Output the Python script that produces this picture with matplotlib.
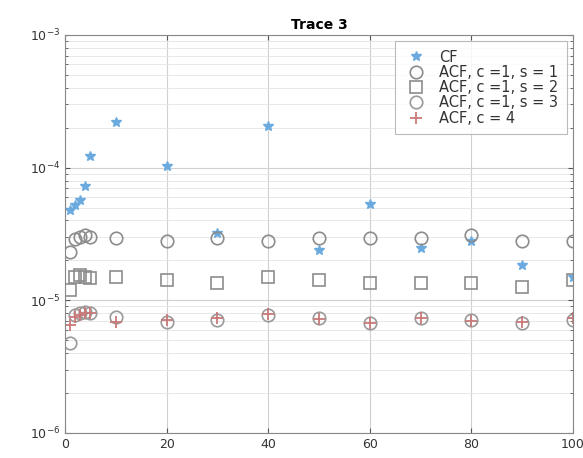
import numpy as np
import matplotlib
matplotlib.use('Agg')
import matplotlib.pyplot as plt

# x positions (same for every series)
x = [1, 2, 3, 4, 5, 10, 20, 30, 40, 50, 60, 70, 80, 90, 100]

cf = [4.8e-5, 5.2e-5, 5.7e-5, 7.3e-5, 1.22e-4, 2.21e-4, 1.03e-4, 3.2e-5,
      2.06e-4, 2.4e-5, 5.3e-5, 2.5e-5, 2.8e-5, 1.85e-5, 1.5e-5]
acf_s1 = [2.32e-5, 2.9e-5, 3.0e-5, 3.1e-5, 3.0e-5, 2.95e-5, 2.81e-5, 2.95e-5,
          2.81e-5, 2.95e-5, 2.95e-5, 2.95e-5, 3.11e-5, 2.81e-5, 2.81e-5]
acf_s2 = [1.2e-5, 1.5e-5, 1.55e-5, 1.5e-5, 1.48e-5, 1.5e-5, 1.43e-5, 1.35e-5,
          1.5e-5, 1.43e-5, 1.35e-5, 1.35e-5, 1.35e-5, 1.26e-5, 1.43e-5]
acf_s3 = [4.8e-6, 7.8e-6, 8.0e-6, 8.2e-6, 8.0e-6, 7.5e-6, 6.9e-6, 7.1e-6,
          7.8e-6, 7.4e-6, 6.8e-6, 7.4e-6, 7.1e-6, 6.8e-6, 7.1e-6]
acf_c4 = [6.5e-6, 7.5e-6, 7.8e-6, 8.0e-6, 8.0e-6, 6.9e-6, 7.1e-6, 7.3e-6,
          7.9e-6, 7.2e-6, 6.8e-6, 7.4e-6, 7.0e-6, 6.9e-6, 7.3e-6]

labels = ['CF', 'ACF, c =1, s = 1', 'ACF, c =1, s = 2', 'ACF, c =1, s = 3', 'ACF, c = 4']

fig = plt.figure(figsize=(5.83, 4.58), dpi=100)
ax = fig.add_axes([0.1115, 0.0546, 0.8714, 0.869])

ax.plot(x, cf, ls='none', marker='*', ms=7, mfc='#6aaade', mec='#6aaade', label=labels[0])
ax.plot(x, acf_s1, ls='none', marker='o', ms=9, mfc='none', mec='#8c8c8c', mew=1.2, label=labels[1])
ax.plot(x, acf_s2, ls='none', marker='s', ms=8, mfc='none', mec='#8c8c8c', mew=1.2, label=labels[2])
ax.plot(x, acf_s3, ls='none', marker='o', ms=9, mfc='none', mec='#9a9a9a', mew=1.2, label=labels[3])
ax.plot(x, acf_c4, ls='none', marker='+', ms=9, mec='#c87878', mew=1.3, label=labels[4])

ax.set_yscale('log')
ax.set_xlim(0, 100)
ax.set_ylim(1e-6, 1e-3)
ax.set_xticks([0, 20, 40, 60, 80, 100])
ax.set_title('Trace 3', fontsize=10, fontweight='bold', pad=4)

ax.grid(True, which='major', color='#d0d0d0', lw=0.8)
ax.grid(True, which='minor', axis='y', color='#e4e4e4', lw=0.6)
ax.tick_params(which='both', direction='in', top=True, right=True, colors='#555555', labelsize=9)
ax.tick_params(labelcolor='#333333')
for s in ax.spines.values():
    s.set_color('#888888')

leg = ax.legend(loc='upper right', fontsize=10.5, frameon=True, fancybox=False,
                edgecolor='#aaaaaa', handletextpad=0.8, borderpad=0.6,
                labelspacing=0.02, handlelength=1.6, borderaxespad=0.4,
                labelcolor='#333333')
leg.get_frame().set_linewidth(0.8)

fig.savefig('out.png', dpi=100)
